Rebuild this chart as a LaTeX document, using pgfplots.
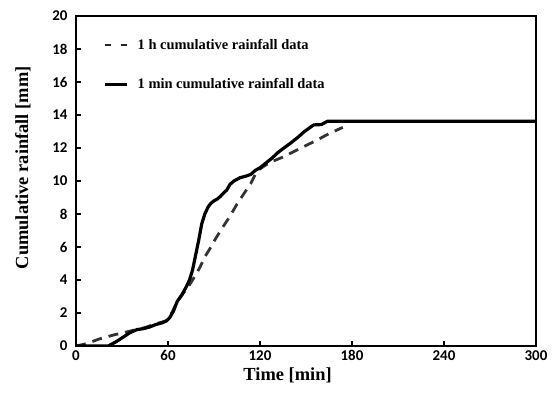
\documentclass[border=0pt]{standalone}
\usepackage{pgfplots}
\pgfplotsset{compat=1.18}
\usepackage{fontspec}
\setmainfont{Liberation Serif}
\newfontfamily\calfont{Carlito}
\begin{document}
\begin{tikzpicture}
\begin{axis}[
  scale only axis,
  width=460bp, height=330bp,
  xmin=0, xmax=300, ymin=0, ymax=20,
  xtick={0,60,120,180,240,300},
  ytick={0,2,4,6,8,10,12,14,16,18,20},
  tick align=inside,
  xtick pos=bottom, ytick pos=left,
  major tick length=5bp,
  tick style={line width=1.4bp, black},
  axis line style={line width=1.6bp, black},
  /pgf/number format/assume math mode=true,
  ticklabel style={font=\calfont\bfseries\fontsize{15}{16}\selectfont},
  yticklabel style={xshift=-5bp},
  xticklabel style={yshift=-1bp},
  xlabel={Time [min]},
  ylabel={Cumulative rainfall [mm]},
  label style={font=\bfseries\fontsize{18.5}{20}\selectfont},
  xlabel style={at={(axis description cs:0.46,0)}, anchor=north, yshift=-18bp},
  ylabel style={at={(axis description cs:0,0.54)}, anchor=south, yshift=42bp},
  legend style={at={(axis description cs:0.058,0.937)}, anchor=north west, draw=none, fill=none,
    font=\bfseries\fontsize{14.5}{16}\selectfont, row sep=24bp, inner sep=0pt,
    cells={anchor=west}},
  legend image code/.code={\draw[#1] (0bp,0bp) -- (22bp,0bp); \path (29bp,0bp);},
]
\addlegendimage{black!85, line width=2.6bp, dash pattern=on 6bp off 10bp}
\addlegendentry{1 h cumulative rainfall data}
\addlegendimage{black, line width=3.8bp}
\addlegendentry{1 min cumulative rainfall data}

\addplot[forget plot, black!80, line width=2.8bp, dash pattern=on 10bp off 7bp, line join=round] coordinates {
(0,0) (5,0.1) (10,0.25) (15,0.42) (20,0.55) (25,0.68) (30,0.78) (35,0.9) (40,1.0)
(45,1.12) (50,1.28) (55,1.42) (58,1.5) (60,1.6) (63,2.1) (66,2.7) (70,3.2) (74,3.7)
(78,4.3) (81,4.8) (84,5.4) (88,6.0) (91,6.5) (95,7.1) (100,7.8) (105,8.6) (110,9.3)
(114,9.85) (118,10.6) (121,10.8) (126,11.1) (131,11.3) (135,11.45) (142,11.78)
(150,12.15) (157,12.47) (165,12.87) (174,13.25)
};
\addplot[forget plot, black, line width=3.2bp, line join=round] coordinates {
(0,0) (21,0) (26,0.25) (31,0.55) (35,0.8) (40,1.0) (44,1.05) (48,1.15) (52,1.3)
(56,1.4) (59,1.52) (61,1.7) (63.5,2.1) (66,2.7) (69,3.1) (72,3.6) (74,4.0) (76,4.6)
(78,5.5) (80,6.4) (82,7.4) (84,8.0) (86.3,8.45) (88,8.65) (90,8.8) (92,8.9) (94,9.05)
(96,9.25) (98.3,9.45) (100.5,9.8) (103,10.0) (107,10.2) (111,10.3) (114,10.4)
(117,10.65) (120,10.8) (124,11.1) (128,11.4) (132,11.75) (135,11.96) (140,12.3)
(145,12.67) (149,13.0) (152,13.2) (155,13.4) (160,13.42) (164,13.62) (300,13.62)
};
\end{axis}
\pgfresetboundingbox
\path[use as bounding box] (-76bp,-49bp) rectangle (479bp,346bp);
\end{tikzpicture}
\end{document}
